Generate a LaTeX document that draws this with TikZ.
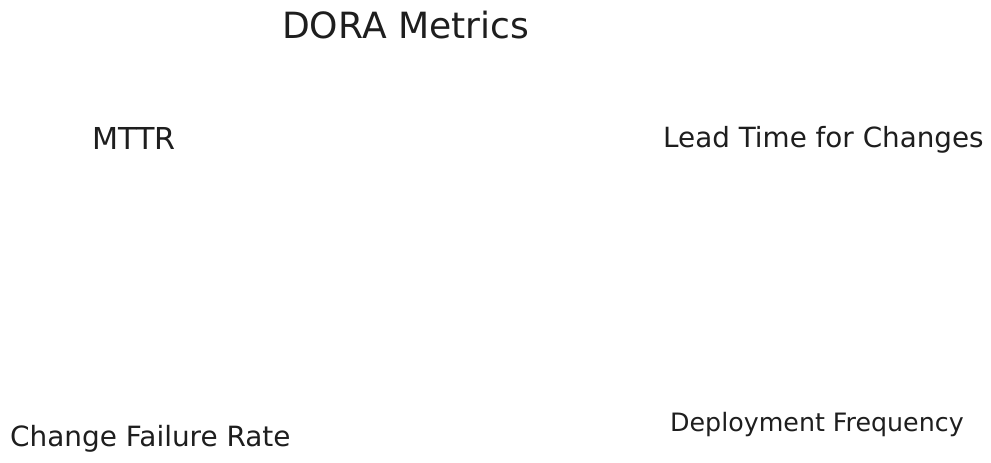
\documentclass[tikz,border=0pt]{standalone}
\usepackage{fontspec}
\setmainfont{DejaVu Sans}
\definecolor{ink}{HTML}{1E1E1E}
\tikzset{
  lbl/.style={anchor=base west, inner sep=0pt, text=ink},
}
\begin{document}
\begin{tikzpicture}[x=1pt,y=-1pt]
\useasboundingbox[fill=white] (0,0) rectangle (991,463);
\node[lbl, font=\fontsize{36.1}{40}\selectfont] (title) at (282,38) {DORA Metrics};
\node[lbl, font=\fontsize{30.2}{34}\selectfont] (mttr) at (92,149) {MTTR};
\node[lbl, font=\fontsize{27.8}{32}\selectfont] (lead) at (663,147) {Lead Time for Changes};
\node[lbl, font=\fontsize{27.9}{32}\selectfont] (cfr) at (10,446) {Change Failure Rate};
\node[lbl, font=\fontsize{25.3}{30}\selectfont] (deploy) at (670,431) {Deployment Frequency};
\end{tikzpicture}
\end{document}
